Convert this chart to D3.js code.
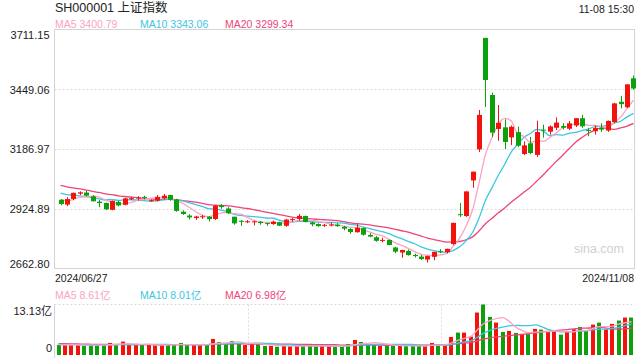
<!DOCTYPE html>
<html><head><meta charset="utf-8">
<script src="https://cdn.jsdelivr.net/npm/d3@7"></script>
<style>
html,body{margin:0;padding:0;background:#fff;}
svg{display:block;font-family:Arial,"Liberation Sans","Noto Sans CJK SC",sans-serif;}
</style></head><body>
<svg id="c" width="640" height="360"></svg>
<script>
const dates = ["06-27","06-28","07-01","07-02","07-03","07-04","07-05","07-08","07-09","07-10","07-11","07-12","07-15","07-16","07-17","07-18","07-19","07-22","07-23","07-24","07-25","07-26","07-29","07-30","07-31","08-01","08-02","08-05","08-06","08-07","08-08","08-09","08-12","08-13","08-14","08-15","08-16","08-19","08-20","08-21","08-22","08-23","08-26","08-27","08-28","08-29","08-30","09-02","09-03","09-04","09-05","09-06","09-09","09-10","09-11","09-12","09-13","09-18","09-19","09-20","09-23","09-24","09-25","09-26","09-27","09-30","10-08","10-09","10-10","10-11","10-14","10-15","10-16","10-17","10-18","10-21","10-22","10-23","10-24","10-25","10-28","10-29","10-30","10-31","11-01","11-04","11-05","11-06","11-07","11-08"];
const opens = [2964,2943,2968,2991,2996,2979,2956,2950,2920,2955,2942,2968,2970,2977,2958,2960,2970,2985,2966,2912,2895,2884,2888,2890,2880,2940,2926,2890,2872,2866,2866,2868,2862,2858,2866,2850,2875,2880,2893,2865,2858,2850,2853,2855,2846,2836,2822,2840,2810,2800,2784,2788,2755,2733,2740,2722,2715,2702,2714,2738,2735,2770,2901,2893,3049,3185,3674.4,3424,3275,3282,3238,3261,3165,3212,3161,3272,3263,3280,3288,3276,3290,3322,3270,3265,3280,3268,3305,3394,3370,3497];
const highs = [2967,2976,2996,3001,3003,2985,2963,2952,2961,2960,2973,2978,2980,2982,2966,2985,2990,2986,2969,2918,2901,2894,2898,2892,2941,2945,2932,2890,2875,2875,2873,2871,2864,2873,2868,2881,2885,2902,2895,2867,2861,2858,2865,2862,2850,2840,2860,2842,2818,2805,2798,2790,2758,2745,2746,2728,2723,2720,2736,2748,2750,2863,2950,3001,3088,3358,3674.4,3434,3380,3317,3290,3285,3220,3240,3311,3294,3290,3326,3300,3310,3322,3337,3280,3290,3300,3312,3390,3420,3471,3509];
const lows = [2940,2936,2962,2985,2979,2957,2932,2919,2918,2935,2940,2963,2960,2966,2955,2956,2965,2960,2912,2898,2878,2876,2880,2869,2876,2925,2902,2855,2850,2862,2852,2855,2850,2854,2849,2846,2868,2872,2865,2848,2846,2845,2848,2845,2830,2815,2820,2807,2800,2780,2778,2765,2730,2710,2719,2711,2700,2689,2699,2730,2729,2767,2889,2889,3017,3174,3371,3240,3223,3186,3204,3196,3160,3165,3152,3237,3250,3270,3272,3270,3283,3280,3243,3250,3262,3262,3300,3365,3366,3447];
const closes = [2945.85,2967.40,2994.73,2997.01,2982.38,2957.57,2949.93,2922.45,2959.37,2939.36,2970.39,2971.30,2974.01,2976.30,2962.65,2977.13,2982.31,2964.22,2915.37,2901.95,2886.74,2890.90,2891.85,2879.30,2938.75,2932.39,2905.34,2860.70,2867.28,2869.90,2869.83,2862.19,2858.20,2867.95,2850.65,2877.36,2879.43,2893.67,2866.66,2856.58,2848.77,2854.37,2855.52,2848.73,2837.43,2823.11,2842.21,2811.04,2802.98,2784.28,2788.22,2765.81,2736.49,2744.19,2721.80,2717.12,2704.09,2717.28,2736.02,2736.81,2748.92,2863.13,2896.31,3000.95,3087.53,3336.50,3489.78,3258.86,3301.93,3217.74,3284.32,3201.29,3202.95,3169.38,3261.56,3268.11,3285.87,3302.80,3280.26,3299.70,3322.20,3286.41,3266.24,3279.82,3272.01,3310.21,3386.99,3383.81,3470.66,3452.30];
const volumes = [2.61,2.58,2.64,2.60,2.35,2.62,2.58,2.63,3.13,2.60,3.48,2.62,2.58,2.60,2.63,2.59,2.61,2.60,2.64,3.13,2.62,2.58,2.55,2.60,4.17,3.39,2.87,3.65,3.04,2.61,2.96,2.78,2.35,2.36,2.17,2.38,2.33,2.36,2.37,2.34,2.33,2.35,2.36,2.17,2.18,2.87,3.91,3.39,2.87,2.86,2.35,2.52,2.36,2.35,2.34,2.36,2.33,2.35,3.13,2.70,2.71,4.70,5.83,5.82,4.78,11.04,13.13,9.91,8.43,6.00,6.26,5.74,5.48,5.47,6.78,6.61,6.00,6.35,5.30,6.00,6.70,7.30,6.43,7.91,8.43,6.70,8.09,8.96,9.74,9.74];
const priorCloses = [3091.68,3086.81,3078.49,3091.20,3065.40,3048.79,3051.28,3028.05,3037.47,3028.92,3032.63,3015.89,3030.25,3018.05,3005.44,2998.14,2963.10,2950.00,2972.53];
const priorVolumes = [3.3,3.2,3.4,3.5,3.1,3.0,3.0,3.2,2.9,3.1,3.0,2.8,2.9,2.8,2.7,2.8,2.6,2.7,2.8];
const priceTicks = [3711.15, 3449.06, 3186.97, 2924.89, 2662.80];
const volTickLabels = ["13.13亿", "0"];
const volTicks = [13.13, 0];
const xLabels = ["2024/06/27", "2024/11/08"];
const maPeriods = [5, 10, 20];
const priceLegend = ["MA5 3400.79", "MA10 3343.06", "MA20 3299.34"];
const volLegend = ["MA5 8.61亿", "MA10 8.01亿", "MA20 6.98亿"];
const titleText = "SH000001 上证指数";
const timeText = "11-08 15:30";

const UP = "#f2140c", DOWN = "#0ca10c";
const maColors = ["#fba3c2", "#3ec6e2", "#ee4579"];
const svg = d3.select("#c");
const N = dates.length;
const L = 54.5, R = 634.5, PT = 29.5, PB = 268.5, VT = 304.5, VB = 355;

const xC = d3.scaleBand().domain(d3.range(N)).range([57.3, 636.7]);
const xV = d3.scaleBand().domain(d3.range(N)).range([55.3, 634.7]);
const y = d3.scaleLinear().domain([2662.80, 3711.15]).range([PB, PT]);
const yv = d3.scaleLinear().domain([0, 13.13]).range([VB, VT]);
const cx = i => xC(i) + xC.bandwidth() / 2;
const vx = i => xV(i) + xV.bandwidth() / 2;

function ma(prior, arr, n) {
  const all = prior.concat(arr), off = prior.length;
  return d3.range(N).map(i => d3.mean(all.slice(off + i - n + 1, off + i + 1)));
}

// title & time
svg.append("text").attr("x", 55).attr("y", 12).attr("font-size", 12.5).attr("fill", "#222").text(titleText);
svg.append("text").attr("x", 634).attr("y", 12.5).attr("text-anchor", "end").attr("font-size", 10.5).attr("fill", "#222").text(timeText);

// legends
const legX = [55, 140, 225];
priceLegend.forEach((t, k) => svg.append("text").attr("x", legX[k]).attr("y", 28).attr("font-size", 10.5).attr("fill", maColors[k]).text(t));
volLegend.forEach((t, k) => svg.append("text").attr("x", legX[k]).attr("y", 299).attr("font-size", 10.5).attr("fill", maColors[k]).text(t));

// price panel frame and grid
svg.append("rect").attr("x", L).attr("y", PT).attr("width", R - L).attr("height", PB - PT).attr("fill", "none").attr("stroke", "#d4d4d4");
priceTicks.slice(1, -1).forEach(v => svg.append("line").attr("x1", L).attr("x2", R).attr("y1", Math.round(y(v)) + 0.5).attr("y2", Math.round(y(v)) + 0.5).attr("stroke", "#dcdcdc").attr("stroke-dasharray", "2,2"));

// price axis labels via d3 axis
const ax = svg.append("g").attr("transform", `translate(${L - 2},0)`).call(d3.axisLeft(y).tickValues(priceTicks).tickSize(0).tickFormat(d3.format(".2f")));
ax.select(".domain").remove();
ax.selectAll("text").attr("font-size", 11).attr("font-family", "Arial, 'Liberation Sans', sans-serif").attr("fill", "#222")
  .attr("dy", (d, i) => i === 0 ? "0.82em" : (i === priceTicks.length - 1 ? "-0.1em" : "0.34em"));

// x labels
svg.append("text").attr("x", 55).attr("y", 282).attr("font-size", 10.5).attr("fill", "#222").text(xLabels[0]);
svg.append("text").attr("x", 634).attr("y", 282).attr("text-anchor", "end").attr("font-size", 10.5).attr("fill", "#222").text(xLabels[1]);

// watermark
svg.append("text").attr("x", 624).attr("y", 253).attr("text-anchor", "end").attr("font-size", 12.5).attr("fill", "#d0d0d0").text("sina.com");

// MA lines (price)
const lineP = d3.line().x((d, i) => cx(i)).y(d => y(d)).curve(d3.curveMonotoneX);
maPeriods.slice().reverse().forEach((n, kk) => {
  const k = maPeriods.length - 1 - kk;
  svg.append("path").attr("d", lineP(ma(priorCloses, closes, n))).attr("fill", "none").attr("stroke", maColors[k]).attr("stroke-width", 1.3);
});

// candles
const cw = 5;
const g = svg.append("g");
d3.range(N).forEach(i => {
  const up = closes[i] >= opens[i];
  const col = up ? UP : DOWN;
  const xm = Math.round(cx(i)) + 0.5;
  g.append("line").attr("x1", xm).attr("x2", xm).attr("y1", y(highs[i])).attr("y2", y(lows[i])).attr("stroke", col).attr("stroke-width", 1);
  const top = y(Math.max(opens[i], closes[i])), bot = y(Math.min(opens[i], closes[i]));
  g.append("rect").attr("x", xm - cw / 2).attr("y", top).attr("width", cw).attr("height", Math.max(1, bot - top)).attr("fill", col);
});

// volume panel frame
svg.append("line").attr("x1", L).attr("x2", L).attr("y1", VT).attr("y2", 358).attr("stroke", "#d4d4d4");
svg.append("line").attr("x1", L).attr("x2", R).attr("y1", VT).attr("y2", VT).attr("stroke", "#dcdcdc").attr("stroke-dasharray", "2,2");
[L + (R - L) / 3, L + 2 * (R - L) / 3].forEach(xx => svg.append("line").attr("x1", Math.round(xx) + 0.5).attr("x2", Math.round(xx) + 0.5).attr("y1", VT).attr("y2", 358).attr("stroke", "#dcdcdc").attr("stroke-dasharray", "2,2"));

// volume axis labels
volTicks.forEach((v, k) => svg.append("text").attr("x", 52).attr("y", k === 0 ? yv(v) + 10 : yv(v) - 3).attr("text-anchor", "end").attr("font-size", 11).attr("fill", "#222").text(volTickLabels[k]));

// volume bars
svg.append("g").selectAll("rect").data(volumes).join("rect")
  .attr("x", (d, i) => Math.round(vx(i)) - 2).attr("width", 4)
  .attr("y", d => yv(d)).attr("height", d => VB - yv(d))
  .attr("fill", (d, i) => closes[i] >= opens[i] ? UP : DOWN);

// volume MA lines
const lineV = d3.line().x((d, i) => vx(i)).y(d => yv(d)).curve(d3.curveMonotoneX);
maPeriods.slice().reverse().forEach((n, kk) => {
  const k = maPeriods.length - 1 - kk;
  svg.append("path").attr("d", lineV(ma(priorVolumes, volumes, n))).attr("fill", "none").attr("stroke", maColors[k]).attr("stroke-width", 1.3);
});
</script>
</body></html>
